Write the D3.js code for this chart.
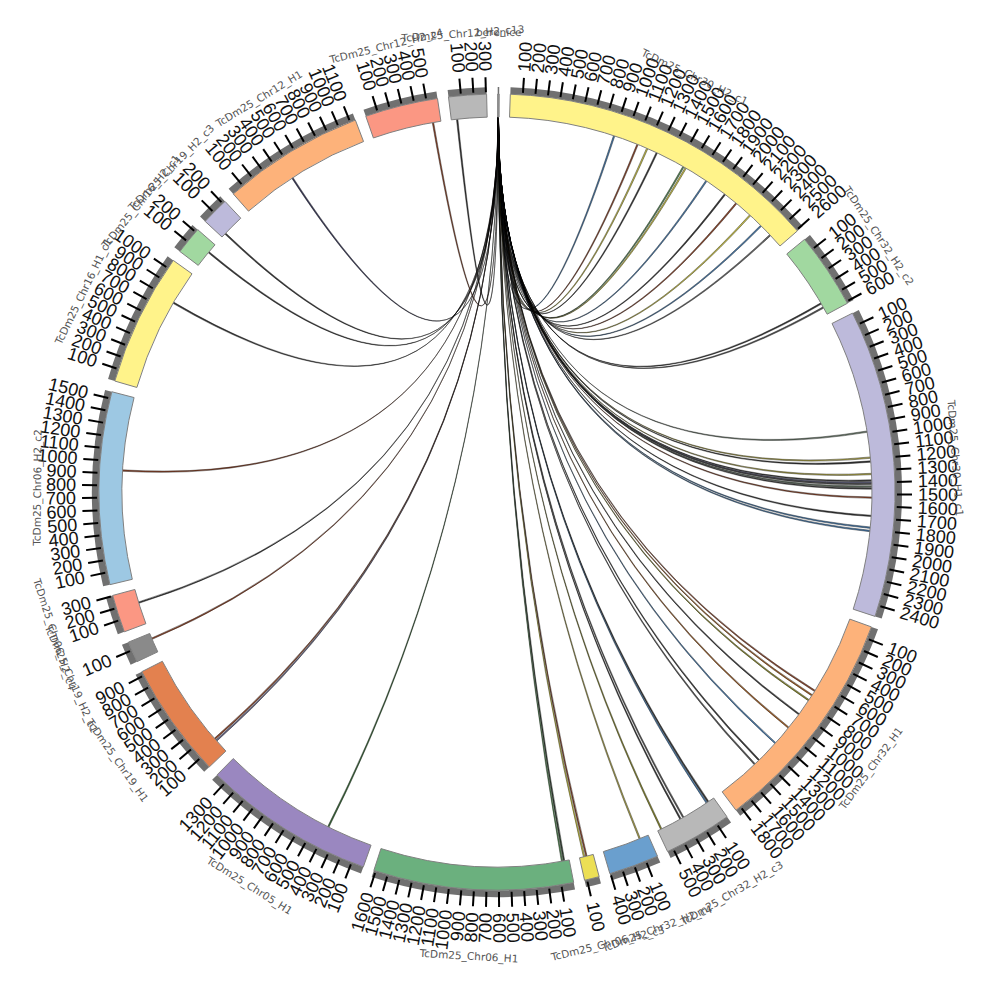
<!DOCTYPE html>
<html>
<head>
<meta charset="utf-8">
<script src="https://cdn.jsdelivr.net/npm/d3@7"></script>
<style>
  body { margin: 0; background: #fff; }
</style>
</head>
<body>
<svg id="chart" width="1000" height="1000"></svg>
<script>
/*
 * Circos-style chord view of contigs, drawn with d3
 */

// sectors, clockwise from the top
var sectorNames = ["berenice", "TcDm25_Chr30_H2_c1", "TcDm25_Chr32_H2_c2", "TcDm25_Chr30_H1_c1",
  "TcDm25_Chr32_H1", "TcDm25_Chr32_H2_c3", "TcDm25_Chr32_H2_c4", "TcDm25_Chr06_H2_c3",
  "TcDm25_Chr06_H1", "TcDm25_Chr05_H1", "TcDm25_Chr19_H1", "TcDm25_Chr19_H2_c1",
  "TcDm25_Chr06_H2_c4", "TcDm25_Chr06_H2_c2", "TcDm25_Chr16_H1_c1", "TcDm25_Chr16_H2_c1",
  "TcDm25_Chr19_H2_c3", "TcDm25_Chr12_H1", "TcDm25_Chr12_H2_c4", "TcDm25_Chr12_H2_c13"];
var sectorLengths = [12, 2610, 615, 2490, 1845, 550, 405, 120, 1615, 1390, 935, 170, 305, 1555, 1075, 225, 225, 1145, 590, 305];
var sectorColors = ["#999999", "#fff38a", "#a1d8a0", "#bdbadb", "#fdb27a", "#b8b8b8", "#6a9fce", "#ecdf55",
  "#6bb07e", "#9a87c0", "#e3814f", "#8a8a8a", "#fb9783", "#9dc8e3", "#fff38a", "#a1d8a0",
  "#bdbadb", "#fdb27a", "#fb9783", "#b8b8b8"];

// links: all start in the first sector; target sector index and position
var linkTargets = [1,1,1,1,1,1,1,1,1,1,1,1,
  2,2,
  3,3,3,3,3,3,3,3,3,3,3,3,3,
  4,4,4,4,4,4,4,4,
  5,5,5,5,5,
  6, 7,7, 8,8, 9, 10,10, 11, 12, 13, 14, 15, 16, 17, 18, 19];
var linkPositions = [903, 1114, 1203, 1292, 1547, 1569, 1775, 1969, 2092, 2247, 2375, 2486,
  511, 550,
  967, 1189, 1222, 1328, 1383, 1400, 1411, 1433, 1450, 1528, 1683, 1783, 1811,
  678, 722, 772, 917, 1061, 1233, 1433, 1483,
  56, 72, 306, 333, 517,
  78, 60, 80, 45, 62, 394, 120, 140, 122, 189, 928, 783, 142, 40, 467, 522, 50];
var linkColors = ["#4a7bab", "#8e4a30", "#c9c24a", "#3a3a3a", "#5a8a5a", "#c9c24a", "#4a7bab", "#3a3a3a", "#8e4a30", "#c9c24a", "#4a7bab", "#666666",
  "#3a3a3a", "#555555",
  "#6a7a6a", "#b0a850", "#3a3a3a", "#b0a850", "#444444", "#7a7a9a", "#555555", "#6a7a6a", "#444444", "#8e4a30", "#3a3a3a", "#4a7bab", "#4a7bab",
  "#8e4a30", "#a0602a", "#8a8a30", "#3a3a3a", "#a0602a", "#4a7bab", "#3a3a3a", "#555555",
  "#3a3a3a", "#4a7bab", "#555555", "#3a3a3a", "#8a8a30",
  "#b0a850", "#8e4a30", "#c9c24a", "#3a4a3a", "#5a8a5a", "#3a6a3a", "#6a6a8a", "#8e4a30", "#8e4a30", "#3a3a3a", "#8e4a30", "#3a3a3a", "#3a3a3a", "#3a3a3a", "#3a3a5a", "#8e4a30", "#3a3a3a"];

var cx = 497, cy = 492;
var innerR = 375, outerR = 398, grayR = 405;
var gapDeg = 1.6, startDeg = 0.1;
var toRad = Math.PI / 180;

var svg = d3.select("#chart");
var g = svg.append("g").attr("transform", "translate(" + cx + "," + cy + ")");

var total = d3.sum(sectorLengths);
var n = sectorLengths.length;
var unitScale = d3.scaleLinear().domain([0, total]).range([0, (360 - n * gapDeg) * toRad]);

var offsets = [];
var acc = 0;
sectorLengths.forEach(function(len) { offsets.push(acc); acc += len; });

// angle (radians, 0 at top, clockwise) of a position inside sector i
function angleAt(i, pos) {
  return startDeg * toRad + i * gapDeg * toRad + unitScale(offsets[i] + pos);
}

// links first
var ribbon = d3.ribbon().radius(innerR);
linkTargets.forEach(function(t, k) {
  var p = linkPositions[k];
  var d = ribbon({
    source: { startAngle: angleAt(0, 5.5), endAngle: angleAt(0, 6.5) },
    target: { startAngle: angleAt(t, p - 6), endAngle: angleAt(t, p + 6) }
  });
  g.append("path").attr("d", d)
    .style("fill", linkColors[k]).style("stroke", "#000").style("stroke-width", 0.4);
});

var bandArc = d3.arc().innerRadius(innerR).outerRadius(outerR);
var grayArc = d3.arc().innerRadius(outerR).outerRadius(grayR);

sectorLengths.forEach(function(len, i) {
  var a0 = angleAt(i, 0), a1 = angleAt(i, len);

  // gray tick track
  g.append("path").attr("d", grayArc({ startAngle: a0, endAngle: a1 }))
    .style("fill", "#707070");

  // colored band
  g.append("path").attr("d", bandArc({ startAngle: a0, endAngle: a1 }))
    .style("fill", sectorColors[i]).style("stroke", "#808080").style("stroke-width", 1);

  // ticks every 100
  d3.range(100, len + 1, 100).forEach(function(v) {
    var a = angleAt(i, v);
    var deg = a / toRad;
    var tg = g.append("g").attr("transform", "rotate(" + (deg - 90) + ")");
    tg.append("line").attr("x1", 400).attr("x2", 415).attr("y1", 0).attr("y2", 0)
      .style("stroke", "#000").style("stroke-width", 2);
    var flip = ((deg % 360) + 360) % 360 > 180;
    tg.append("text")
      .attr("transform", "translate(421,0)" + (flip ? " rotate(180)" : ""))
      .attr("text-anchor", flip ? "end" : "start")
      .attr("dominant-baseline", "central")
      .style("font-family", "'Liberation Sans', Arial, sans-serif")
      .style("font-size", "18px")
      .style("fill", "#111")
      .text(v);
  });

  // sector name
  var mid = (a0 + a1) / 2 / toRad;
  var m = ((mid % 360) + 360) % 360;
  var flipName = m > 90 && m < 270;
  g.append("text")
    .attr("transform", "rotate(" + mid + ") translate(0," + (-456) + ")" + (flipName ? " rotate(180)" : ""))
    .attr("text-anchor", "middle")
    .attr("dy", flipName ? "1.2em" : "0")
    .style("font-family", "'DejaVu Sans', sans-serif")
    .style("font-size", "10.5px")
    .style("fill", "#555")
    .text(sectorNames[i]);
});
</script>
</body>
</html>
